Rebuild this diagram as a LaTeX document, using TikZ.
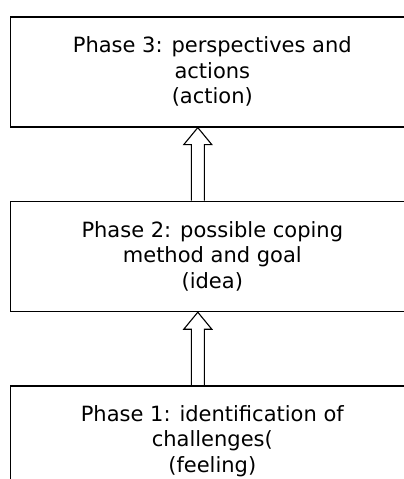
\documentclass[tikz,border=0pt]{standalone}
\usepackage{fontspec}
\setmainfont{DejaVu Sans}
\usetikzlibrary{positioning, calc}

\begin{document}
\begin{tikzpicture}[x=1pt, y=1pt, font=\fontsize{21}{25.5}\selectfont, node distance=73pt,
      phase/.style={draw, line width=1.6pt, minimum width=404pt, minimum height=110pt, inner sep=0pt, align=center},
      uparrow/.style={draw, line width=1.1pt, line join=miter}]
    \useasboundingbox (0,0) rectangle (404,-479);
    \node[phase, anchor=north west] (p3) at (9.5,-16) {Phase 3: perspectives and\\ actions\\ (action)};
    \node[phase, below=of p3] (p2) {Phase 2: possible coping\\ method and goal\\ (idea)};
    \node[phase, below=of p2] (p1) {Phase 1: identification of\\ challenges(\\ (feeling)};
    % hollow block arrows between the phases
    \foreach \lo/\hi in {p1/p2, p2/p3} {
      \coordinate (tip) at ($(\hi.south)+(-14.5,0)$);
      \coordinate (foot) at ($(\lo.north)+(-14.5,0)$);
      \draw[uparrow] ($(foot)+(-6.5,0)$) -- ($(tip)+(-6.5,-17)$) -- ($(tip)+(-14,-17)$) -- (tip)
        -- ($(tip)+(14,-17)$) -- ($(tip)+(6.5,-17)$) -- ($(foot)+(6.5,0)$);
    }
  \end{tikzpicture}
\end{document}
